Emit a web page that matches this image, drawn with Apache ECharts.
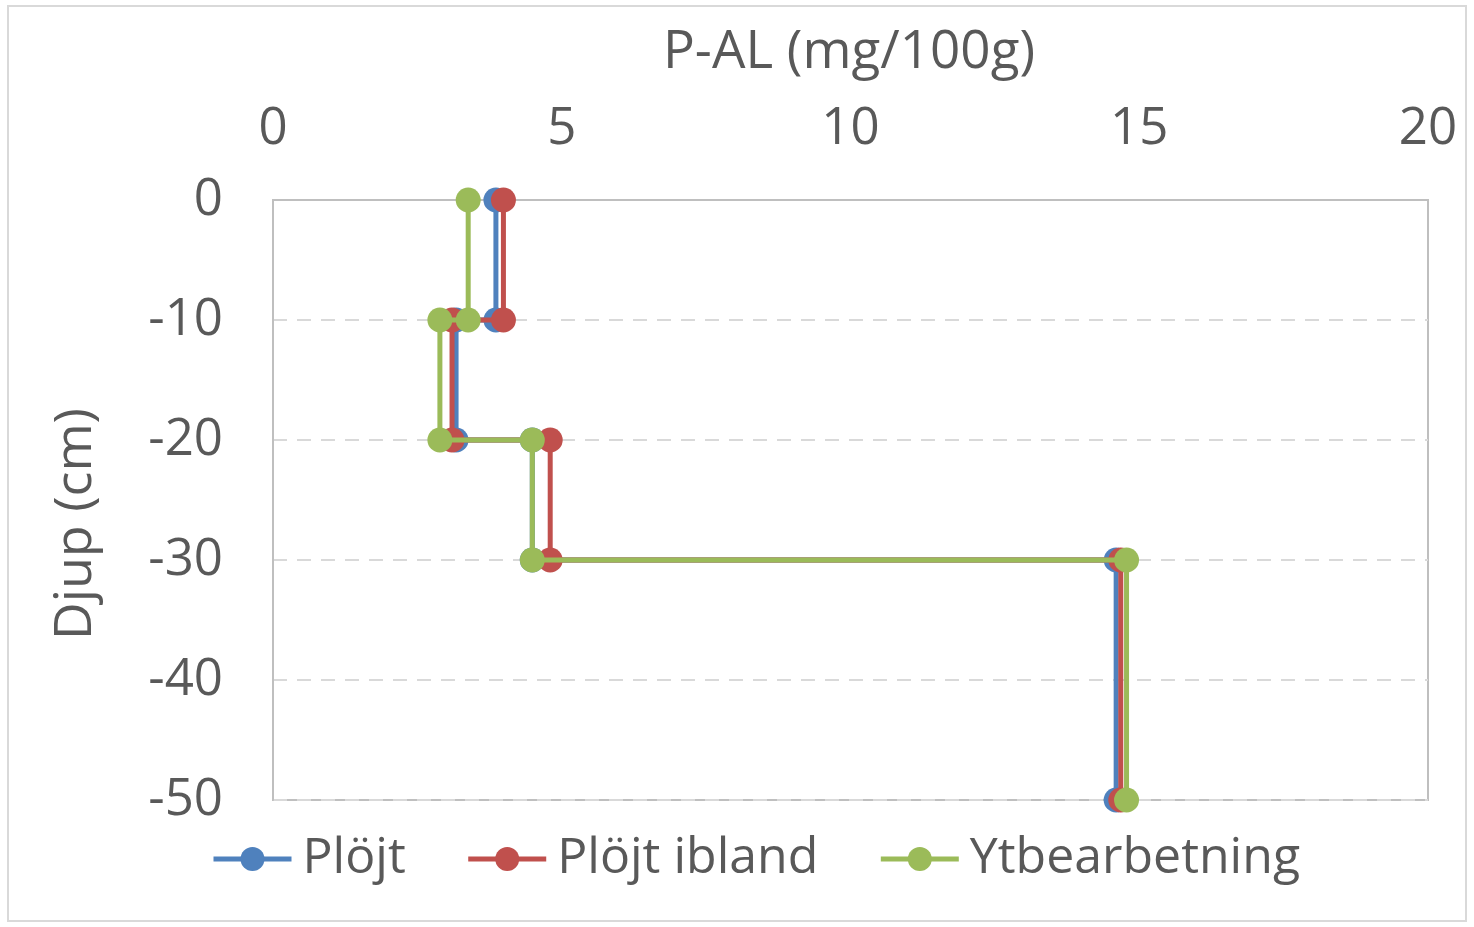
<!DOCTYPE html>
<html>
<head>
<meta charset="utf-8">
<script src="https://cdn.jsdelivr.net/npm/echarts@6/dist/echarts.min.js"></script>
<style>
html,body{margin:0;padding:0;background:#fff;}
#chart{width:1474px;height:927px;}
</style>
</head>
<body>
<div id="chart"></div>
<script>
const depths = [0, -10, -10, -20, -20, -30, -30, -50];
const plojt = [3.86, 3.86, 3.17, 3.17, 4.49, 4.49, 14.60, 14.60];
const plojtIbland = [3.99, 3.99, 3.10, 3.10, 4.80, 4.80, 14.68, 14.68];
const ytbearbetning = [3.38, 3.38, 2.89, 2.89, 4.49, 4.49, 14.78, 14.78];
const seriesNames = ['Plöjt', 'Plöjt ibland', 'Ytbearbetning'];
const seriesColors = ['#4f81bd', '#c0504d', '#9bbb59'];
const xTicks = [0, 5, 10, 15, 20];
const yTicks = [0, -10, -20, -30, -40, -50];

const FONT = 'Open Sans';
const TXT = '#595959';
const chart = echarts.init(document.getElementById('chart'));
const values = [plojt, plojtIbland, ytbearbetning];

chart.setOption({
  animation: false,
  textStyle: {fontFamily: FONT},
  grid: {left: 273, right: 46, top: 200, bottom: 127, show: true, borderColor: '#bfbfbf', borderWidth: 2, backgroundColor: 'transparent'},
  graphic: [
    {type: 'rect', shape: {x: 8, y: 6, width: 1458, height: 915}, style: {fill: 'none', stroke: '#d9d9d9', lineWidth: 2}, z: -1},
    {type: 'text', x: 849, y: 53, style: {text: 'P-AL (mg/100g)', fill: TXT, font: '53px "Open Sans"', textAlign: 'center', textVerticalAlign: 'middle'}},
    {type: 'text', rotation: Math.PI / 2, x: 76, y: 524, style: {text: 'Djup (cm)', fill: TXT, font: '52px "Open Sans"', textAlign: 'center', textVerticalAlign: 'middle'}}
  ],
  legend: {
    bottom: 38, left: 206,
    itemWidth: 78, itemHeight: 30, itemGap: 60,
    lineStyle: {width: 5},
    textStyle: {fontSize: 50, color: TXT, fontFamily: FONT, padding: [0, 0, 0, 6]},
    data: seriesNames
  },
  xAxis: {
    type: 'value', position: 'top', min: xTicks[0], max: xTicks[xTicks.length - 1], interval: 5,
    axisLine: {show: true, lineStyle: {color: '#bfbfbf', width: 2}},
    axisTick: {show: false},
    splitLine: {show: false},
    axisLabel: {fontSize: 51, color: TXT, margin: 45, fontFamily: FONT}
  },
  yAxis: {
    type: 'value', min: yTicks[yTicks.length - 1], max: yTicks[0], interval: 10,
    axisLine: {show: true, lineStyle: {color: '#bfbfbf', width: 2}},
    axisTick: {show: false},
    splitLine: {show: true, lineStyle: {color: '#d9d9d9', width: 2, type: [14, 10]}},
    axisLabel: {fontSize: 51, color: TXT, margin: 50, fontFamily: FONT}
  },
  series: seriesNames.map((name, i) => ({
    name: name,
    type: 'line',
    data: values[i].map((v, k) => [v, depths[k]]),
    symbol: 'circle',
    symbolSize: 25,
    color: seriesColors[i],
    lineStyle: {width: 5, color: seriesColors[i]},
    itemStyle: {color: seriesColors[i]},
    z: 2 + i
  }))
});
</script>
</body>
</html>
